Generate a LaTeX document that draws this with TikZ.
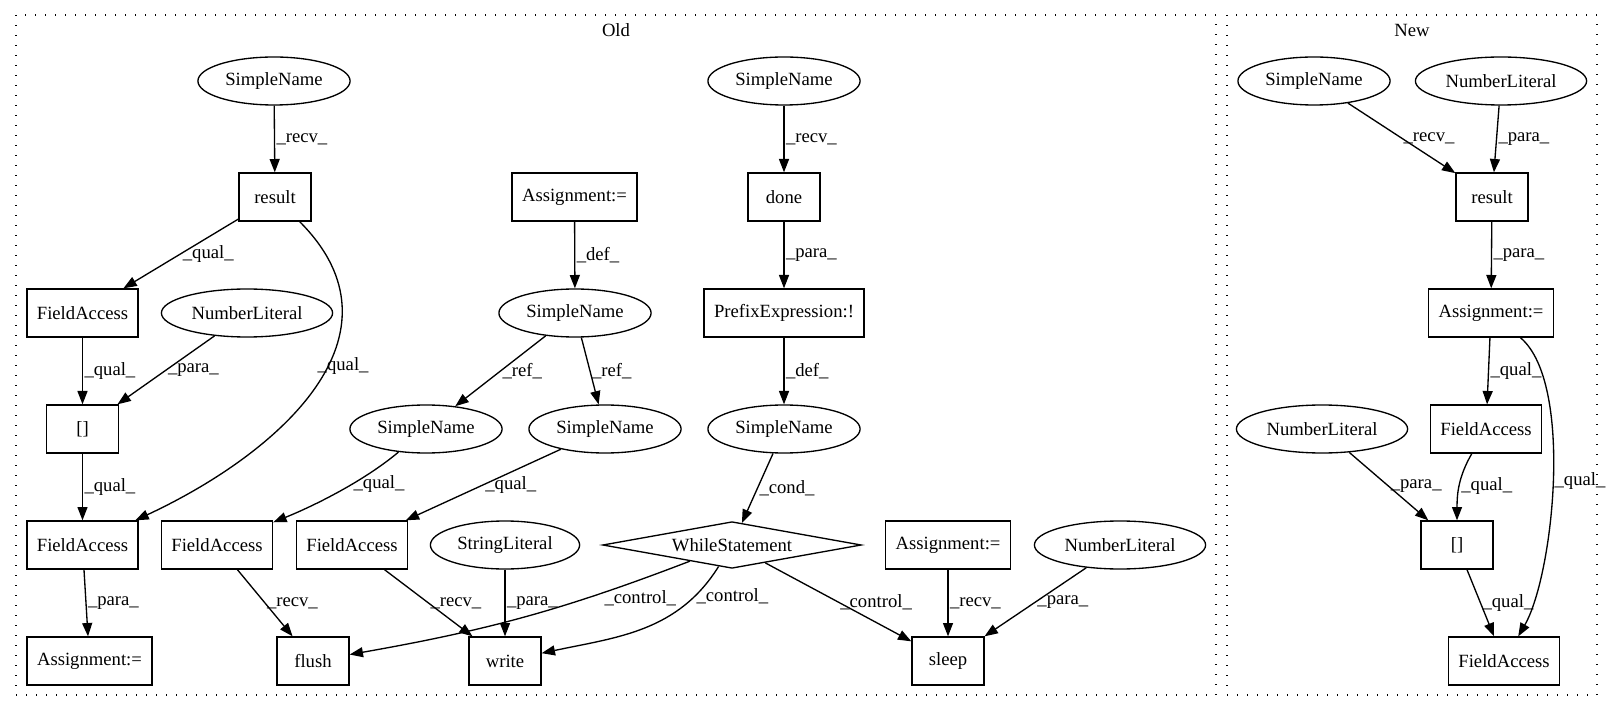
\documentclass[tikz,border=0pt]{standalone}
\usepackage{fontspec}
\setmainfont{Liberation Serif}
\usetikzlibrary{arrows.meta,shapes.geometric}

\begin{document}
\begin{tikzpicture}[x=0.75pt,y=0.75pt,
    font=\fontsize{14pt}{16pt}\selectfont,
    box/.style={rectangle,draw,line width=1pt,minimum width=54pt,minimum height=36pt,inner xsep=7.5pt,inner ysep=3pt},
    oval/.style={ellipse,draw,line width=1pt,minimum height=36pt,inner xsep=3.8pt,inner ysep=3pt},
    cond/.style={diamond,draw,line width=1pt,aspect=5.5,inner sep=1pt,minimum width=194pt,minimum height=35pt},
    cluster/.style={draw,line width=1pt,dash pattern=on 1pt off 6.5pt},
    lbl/.style={right,inner sep=1pt},
    arr/.style={draw,line width=1pt,-{Triangle[length=10pt,width=7.5pt]}}]

  \useasboundingbox (0,0) rectangle (1615,-712);

  % clusters
  \draw[cluster] (16,-15) rectangle (1216,-695);
  \draw[cluster] (1227,-15) rectangle (1597,-695);
  \node (old) at (616,-30)  {Old};
  \node (new) at (1412,-30) {New};

  \begin{scope}[every node/.style=oval]
    \node (1)  at (274,-81)   {SimpleName};
    \node (4)  at (247,-313)  {NumberLiteral};
    \node (9)  at (575,-313)  {SimpleName};
    \node (10) at (426,-429)  {SimpleName};
    \node (11) at (605,-429)  {SimpleName};
    \node (14) at (505,-545)  {StringLiteral};
    \node (17) at (784,-81)   {SimpleName};
    \node (20) at (784,-429)  {SimpleName};
    \node (23) at (1120,-545) {NumberLiteral};
    \node (25) at (1314,-81)  {SimpleName};
    \node (26) at (1501,-81)  {NumberLiteral};
    \node (30) at (1322,-429) {NumberLiteral};
  \end{scope}

  \begin{scope}[every node/.style=box]
    \node (2)  at (275,-197)  {result};
    \node (3)  at (82.5,-313) {FieldAccess};
    \node (5)  at (82.5,-429) {[]};
    \node (6)  at (82.5,-545) {FieldAccess};
    \node (7)  at (89.5,-661) {Assignment:=};
    \node (8)  at (574.5,-197) {Assignment:=};
    \node (12) at (217,-545)  {FieldAccess};
    \node (13) at (352,-545)  {FieldAccess};
    \node (15) at (313,-661)  {flush};
    \node (16) at (505,-661)  {write};
    \node (18) at (784,-197)  {done};
    \node (19) at (784,-313)  {PrefixExpression:!};
    \node (22) at (948,-545)  {Assignment:=};
    \node (24) at (948,-661)  {sleep};
    \node (27) at (1492,-197) {result};
    \node (28) at (1491,-313) {Assignment:=};
    \node (29) at (1486,-429) {FieldAccess};
    \node (31) at (1457,-545) {[]};
    \node (32) at (1504,-661) {FieldAccess};
  \end{scope}

  \node[cond] (21) at (732,-545) {WhileStatement};

  \begin{scope}[every node/.style=lbl, every edge/.style=arr]
    \path (1)  edge node {\_recv\_} (2);
    \path (2)  edge node {\_qual\_} (3);
    \path (2)  edge[out=-45,in=25,looseness=1.2] node[pos=.43,xshift=-9pt] {\_qual\_} (6);
    \path (3)  edge node {\_qual\_} (5);
    \path (4)  edge node {\_para\_} (5);
    \path (5)  edge node {\_qual\_} (6);
    \path (6)  edge node {\_para\_} (7);
    \path (8)  edge node {\_def\_} (9);
    \path (9)  edge node {\_ref\_} (10);
    \path (9)  edge node {\_ref\_} (11);
    \path (10) edge[out=-140,in=22,looseness=.8] node[pos=.4] {\_qual\_} (12);
    \path (11) edge node {\_qual\_} (13);
    \path (12) edge node {\_recv\_} (15);
    \path (13) edge node {\_recv\_} (16);
    \path (14) edge node {\_para\_} (16);
    \path (17) edge node {\_recv\_} (18);
    \path (18) edge node {\_para\_} (19);
    \path (19) edge node {\_def\_} (20);
    \path (20) edge node {\_cond\_} (21);
    \path (21) edge[out=-159,in=10] node[pos=.3,xshift=13pt] {\_control\_} (15);
    \path (21) edge[out=-122,in=12] node[pos=.18] {\_control\_} (16);
    \path (21) edge node {\_control\_} (24);
    \path (22) edge node {\_recv\_} (24);
    \path (23) edge node {\_para\_} (24);
    % new
    \path (25) edge node {\_recv\_} (27);
    \path (26) edge node {\_para\_} (27);
    \path (27) edge node {\_para\_} (28);
    \path (28) edge node {\_qual\_} (29);
    \path (28) edge[out=-40,in=60,looseness=.6] node {\_qual\_} (32);
    \path (30) edge node {\_para\_} (31);
    \path (29) edge[out=-120,in=90] node {\_qual\_} (31);
    \path (31) edge node {\_qual\_} (32);
  \end{scope}

\end{tikzpicture}
\end{document}
